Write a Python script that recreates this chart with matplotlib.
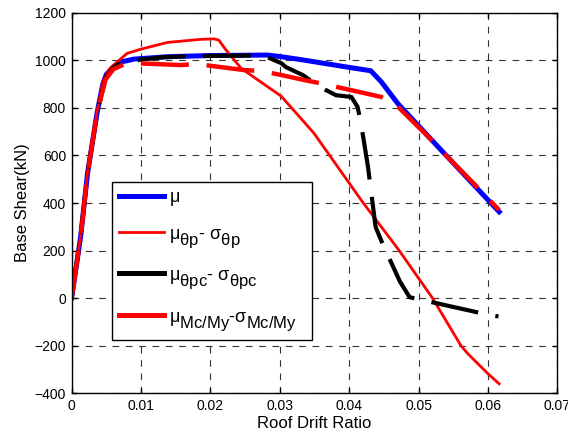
import matplotlib
matplotlib.use("Agg")
import matplotlib.pyplot as plt
from matplotlib.lines import Line2D
import matplotlib._mathtext as mt

plt.rcParams['font.family'] = ['Liberation Sans', 'DejaVu Sans']
plt.rcParams['mathtext.default'] = 'regular'
# subscripts in the original are almost full size and sit lower
mt.SHRINK_FACTOR = 0.92
for name in ['FontConstantsBase', 'DejaVuSansFontConstants']:
    c = getattr(mt, name, None)
    if c is not None:
        c.sub1 = 0.65
        c.sub2 = 0.75

# mean curve
mu_x = [0, 0.0013, 0.0023, 0.0037, 0.0045, 0.005, 0.006, 0.007, 0.009, 0.0138,
        0.020, 0.0282, 0.0302, 0.033, 0.040, 0.0431, 0.0446, 0.047, 0.0528,
        0.0595, 0.0616]
mu_y = [0, 257, 525, 783, 900, 940, 972, 992, 1005, 1015,
        1020, 1022, 1015, 1003, 970, 956, 910, 818, 636,
        428, 363]

# mu_theta_p - sigma_theta_p
tp_x = [0, 0.0013, 0.0023, 0.0037, 0.0045, 0.0055, 0.0066, 0.008, 0.0099,
        0.0138, 0.0186, 0.0205, 0.0212, 0.0222, 0.0244, 0.0302, 0.0349, 0.0419,
        0.0472, 0.052, 0.0561, 0.0571, 0.060, 0.0616]
tp_y = [0, 262, 530, 790, 910, 965, 994, 1029, 1046,
        1075, 1088, 1090, 1085, 1045, 967, 849, 694, 405,
        200, 0, -200, -234, -318, -360]

# mu_theta_pc - sigma_theta_pc
tpc_x = [0, 0.0013, 0.0023, 0.0037, 0.0049, 0.0061, 0.0067, 0.010, 0.0133,
         0.018, 0.026, 0.0282, 0.0302, 0.0309, 0.0333, 0.0359, 0.0381,
         0.0403, 0.0412, 0.0417, 0.0427, 0.0438, 0.0448, 0.0473, 0.0487,
         0.059, 0.0615]
tpc_y = [0, 257, 525, 783, 925, 970, 983, 1003, 1013,
         1018, 1020, 1013, 988, 971, 938, 886, 853,
         846, 804, 734, 552, 299, 229, 70, 4,
         -63, -77]

# mu_Mc/My - sigma_Mc/My
mc_x = [0, 0.0013, 0.0023, 0.0037, 0.0049, 0.006, 0.0075, 0.0089, 0.0157,
        0.0181, 0.0248, 0.0273, 0.0302, 0.0335, 0.0359, 0.0446, 0.0468,
        0.0514, 0.0532, 0.0579, 0.0616]
mc_y = [0, 257, 525, 783, 920, 962, 982, 988, 980,
        984, 959, 955, 938, 917, 903, 846, 811,
        678, 622, 483, 370]

labels = [r'$\mu$',
          r'$\mu_{\theta p}$- $\sigma_{\theta p}$',
          r'$\mu_{\theta pc}$- $\sigma_{\theta pc}$',
          r'$\mu_{Mc/My}$-$\sigma_{Mc/My}$']

xticks = [0, 0.01, 0.02, 0.03, 0.04, 0.05, 0.06, 0.07]
xtick_labels = ['0', '0.01', '0.02', '0.03', '0.04', '0.05', '0.06', '0.07']
yticks = [-400, -200, 0, 200, 400, 600, 800, 1000, 1200]

fig = plt.figure(figsize=(5.68, 4.38), dpi=100)
ax = fig.add_axes([0.126, 0.102, 0.8555, 0.869])

ax.plot(mu_x, mu_y, color='#0000ff', lw=3.6, label=labels[0])
ax.plot(tp_x, tp_y, color='#ff0000', lw=2.0, label=labels[1])
ax.plot(tpc_x, tpc_y, color='black', lw=3.0, dashes=(11.5, 4.2), label=labels[2])
ax.plot(mc_x, mc_y, color='#ff0000', lw=3.2, dashes=(10.8, 4.0), label=labels[3])

ax.set_xlim(0, 0.07)
ax.set_ylim(-400, 1200)
ax.set_xticks(xticks)
ax.set_xticklabels(xtick_labels)
ax.set_yticks(yticks)
ax.tick_params(direction='in', top=True, right=True, length=3.5, width=1,
               labelsize=10, pad=4)
ax.grid(True, color='#333333', lw=0.8, linestyle=(0, (6, 6)))
for s in ax.spines.values():
    s.set_linewidth(1.0)

ax.set_xlabel('Roof Drift Ratio', fontsize=12, labelpad=2)
ax.set_ylabel('Base Shear(kN)', fontsize=12, labelpad=3)

# legend drawn with solid handles like the original
handles = [Line2D([], [], color='#0000ff', lw=3.6),
           Line2D([], [], color='#ff0000', lw=2.0),
           Line2D([], [], color='black', lw=3.6),
           Line2D([], [], color='#ff0000', lw=3.6)]
leg = ax.legend(handles, labels, loc='lower left',
                bbox_to_anchor=(0.0824, 0.140, 0.412, 0.407), mode='expand',
                borderaxespad=0, fontsize=13, handlelength=2.5,
                handletextpad=0.3, labelspacing=0.95, borderpad=0.4,
                fancybox=False, framealpha=1, edgecolor='black')
leg.get_frame().set_linewidth(1.0)

fig.savefig('out.png', dpi=100)
